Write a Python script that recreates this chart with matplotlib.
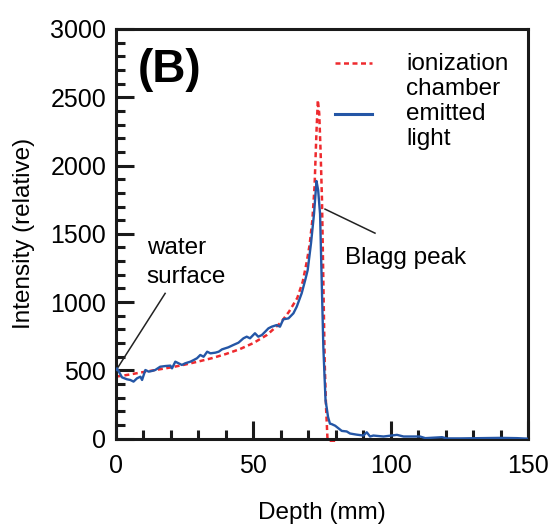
import matplotlib
matplotlib.use("Agg")
import matplotlib.pyplot as plt
from matplotlib.ticker import MultipleLocator

plt.rcParams['font.family'] = ['Liberation Sans', 'DejaVu Sans']

# ionization chamber (red dashed)
ion_depth = [0, 2, 5, 10, 15, 20, 25, 30, 35, 40, 45, 50, 55, 60, 63, 66, 68, 69.5,
             70.5, 71.5, 72.3, 73.0, 73.5, 74.0, 74.5, 75.0, 75.5, 76.0, 76.5, 77.0, 78, 80]
ion_val = [455, 460, 470, 488, 505, 522, 542, 565, 590, 620, 655, 700, 760, 850, 930, 1030,
           1150, 1300, 1420, 1600, 1850, 2250, 2480, 2380, 2100, 1750, 1150, 550, 220, 0, -15, -15]

# emitted light (blue)
light_depth = [0.0, 0.4, 2.2, 4.0, 5.2, 6.4, 7.65, 8.9, 9.5, 10.7, 11.9, 13.1, 14.3, 16.1, 18.0,
               19.8, 20.4, 21.6, 22.8, 24.0, 25.2, 27.1, 28.3, 29.5, 30.7, 31.9, 33.2, 34.4,
               36.2, 37.4, 38.6, 40.9, 42.7, 44.6, 46.4, 47.6, 48.8, 50.6, 51.8, 53.1, 54.3,
               55.5, 56.7, 58.5, 59.7, 60.9, 62.8, 64.6, 65.8, 67.6, 68.9, 69.8, 71.0, 72.1,
               72.6, 73.0, 73.6, 74.3, 74.9, 75.5, 76.3, 76.7, 77.2, 77.9, 78.5, 79.8, 82.2,
               84.0, 85.2, 87.5, 90.1, 91.3, 92.5, 93.7, 97.4, 102.3, 104.7, 110.7, 112.6,
               118.7, 120.5, 125.3, 132.6, 139.9, 146.0, 150.0]
light_val = [505, 515, 449, 435, 430, 418, 442, 454, 430, 503, 491, 496, 503, 527, 532,
             535, 515, 564, 552, 540, 552, 564, 576, 589, 613, 600, 637, 625,
             630, 637, 654, 669, 686, 703, 735, 747, 735, 772, 747, 759, 783,
             808, 820, 832, 820, 874, 881, 918, 966, 1064, 1162, 1235, 1430, 1646,
             1780, 1887, 1820, 1646, 1156, 668, 278, 229, 160, 110, 107, 95, 57,
             53, 38, 30, 23, 47, 16, 23, 16, 28, 16, 16, 4,
             11, 2, 2, 4, 6, 4, 0]

x_ticks = [0, 50, 100, 150]
y_ticks = [0, 500, 1000, 1500, 2000, 2500, 3000]

RED = '#ee2a2e'
BLUE = '#2456a6'

fig = plt.figure(figsize=(5.52, 5.25), dpi=100)
ax = fig.add_axes([0.2101, 0.1644, 0.7464, 0.7804])

ax.plot(ion_depth, ion_val, color=RED, lw=1.8, dashes=(2.0, 1.4), clip_on=False, zorder=2)
ax.plot(light_depth, light_val, color=BLUE, lw=1.7, zorder=3)

ax.set_xlim(0, 150)
ax.set_ylim(0, 3000)
ax.set_xticks(x_ticks)
ax.set_yticks(y_ticks)
ax.xaxis.set_minor_locator(MultipleLocator(10))
ax.yaxis.set_minor_locator(MultipleLocator(100))
ax.tick_params(which='major', direction='in', length=13, width=2.2, labelsize=18,
               top=False, right=False, color='#1a1a1a')
ax.tick_params(which='minor', direction='in', length=6.5, width=2.2,
               top=False, right=False, color='#1a1a1a')
ax.tick_params(axis='x', which='major', pad=11)
ax.tick_params(axis='y', which='major', pad=7)
for s in ax.spines.values():
    s.set_linewidth(2.2)
    s.set_color('#1a1a1a')

ax.set_xlabel('Depth (mm)', fontsize=17.5, labelpad=17)
ax.set_ylabel('Intensity (relative)', fontsize=17.5, labelpad=11)

# panel label
ax.text(8.1, 2614, '(B)', fontsize=33, fontweight='bold', va='baseline', ha='left')

# annotations
ax.plot([0.8, 17.9], [525, 1064], color='#222222', lw=1.1)
ax.text(11.2, 1356, 'water', fontsize=17.5, va='baseline', ha='left')
ax.text(11.2, 1139, 'surface', fontsize=17.5, va='baseline', ha='left')
ax.plot([76.1, 94.3], [1681, 1505], color='#222222', lw=1.1)
ax.text(83.4, 1278, 'Blagg peak', fontsize=17.5, va='baseline', ha='left')

# legend (manual)
ax.plot([0.5316, 0.621], [0.917, 0.917], transform=ax.transAxes, color=RED, lw=1.8,
        dashes=(2.0, 1.4))
ax.plot([0.5316, 0.621], [0.7925, 0.7925], transform=ax.transAxes, color=BLUE, lw=2.2)
for txt, yy in [('ionization', 0.900), ('chamber', 0.839), ('emitted', 0.778), ('light', 0.716)]:
    ax.text(0.704, yy, txt, transform=ax.transAxes, fontsize=17.5, va='baseline', ha='left')

fig.savefig('out.png', dpi=100)
